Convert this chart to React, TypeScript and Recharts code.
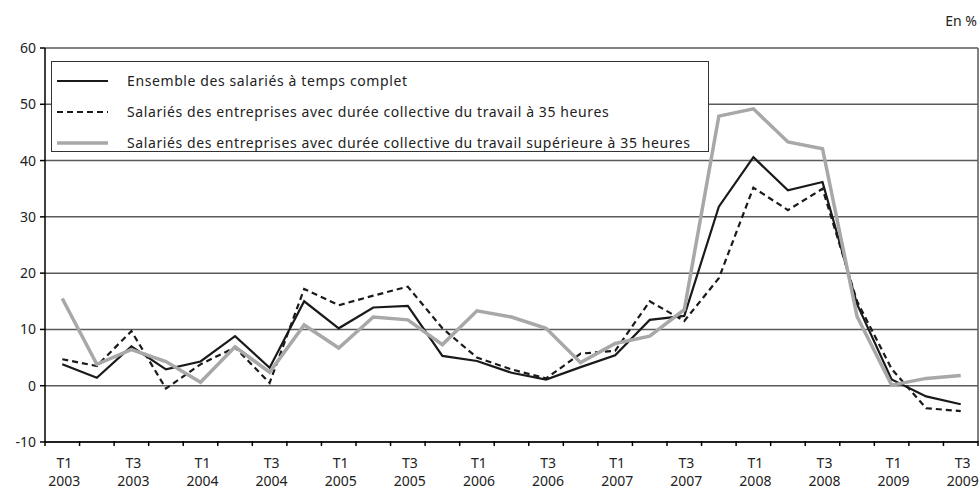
import { LineChart, Line, XAxis, YAxis, CartesianGrid, ReferenceLine, Legend } from "recharts";

const FONT = "'Noto Sans', 'Open Sans', sans-serif";

const periods = [
  "T1 2003", "T2 2003", "T3 2003", "T4 2003",
  "T1 2004", "T2 2004", "T3 2004", "T4 2004",
  "T1 2005", "T2 2005", "T3 2005", "T4 2005",
  "T1 2006", "T2 2006", "T3 2006", "T4 2006",
  "T1 2007", "T2 2007", "T3 2007", "T4 2007",
  "T1 2008", "T2 2008", "T3 2008", "T4 2008",
  "T1 2009", "T2 2009", "T3 2009",
];

// Ensemble des salariés à temps complet
const ensemble = [3.8, 1.4, 7.0, 2.9, 4.3, 8.8, 3.2, 15.0, 10.2, 13.9, 14.2, 5.3, 4.4, 2.3, 1.1, 3.3, 5.4, 11.7, 12.4, 31.8, 40.6, 34.7, 36.2, 14.5, 1.1, -1.9, -3.3];
// durée collective à 35 heures
const trenteCinq = [4.7, 3.5, 9.7, -0.5, 3.8, 6.8, 0.5, 17.2, 14.3, 16.0, 17.6, 10.2, 5.0, 2.9, 1.3, 5.7, 6.2, 15.0, 11.5, 19.1, 35.2, 31.2, 35.0, 15.0, 3.0, -4.0, -4.5];
// durée collective supérieure à 35 heures
const superieure = [15.5, 3.8, 6.4, 4.3, 0.6, 6.9, 2.4, 10.8, 6.7, 12.2, 11.7, 7.3, 13.3, 12.2, 10.2, 4.1, 7.5, 8.8, 13.5, 47.9, 49.2, 43.3, 42.1, 12.3, 0.1, 1.3, 1.8];

const seriesNames = [
  "Ensemble des salariés à temps complet",
  "Salariés des entreprises avec durée collective du travail à 35 heures",
  "Salariés des entreprises avec durée collective du travail supérieure à 35 heures",
];

const yTicks = [-10, 0, 10, 20, 30, 40, 50, 60];

const data = periods.map((p, i) => ({
  idx: i,
  label: p,
  ensemble: ensemble[i],
  trenteCinq: trenteCinq[i],
  superieure: superieure[i],
}));

// tick marks sit between quarters, labels on T1 / T3
const boundaryTicks = Array.from({ length: periods.length + 1 }, (_, i) => i - 0.5);
const labelTicks = periods.map((_, i) => i).filter((i) => i % 2 === 0);
const xTicks = [...boundaryTicks, ...labelTicks].sort((a, b) => a - b);

const XTick = (props: any) => {
  const { x, y, payload } = props;
  const v = payload.value as number;
  if (!Number.isInteger(v)) {
    return <line x1={x} y1={y - 1} x2={x} y2={y + 4} stroke="#000" strokeWidth={1.5} />;
  }
  const [q, year] = periods[v].split(" ");
  return (
    <g>
      <text x={x + 2} y={y + 26} textAnchor="middle" fontSize={14} fill="#222" fontFamily={FONT}>{q}</text>
      <text x={x + 2} y={y + 44} textAnchor="middle" fontSize={14} fill="#222" fontFamily={FONT}>{year}</text>
    </g>
  );
};

const styles = [
  { stroke: "#1a1a1a", width: 2.2, dash: undefined as string | undefined },
  { stroke: "#1a1a1a", width: 2.2, dash: "6 4" },
  { stroke: "#a8a8a8", width: 3.5, dash: undefined as string | undefined },
];

const renderLegend = () => (
  <div
    style={{
      width: 658,
      height: 91,
      boxSizing: "border-box",
      border: "1.5px solid #333",
      background: "#fff",
      fontFamily: FONT,
      fontSize: 14,
      letterSpacing: 0.6,
      color: "#222",
      paddingTop: 3,
    }}
  >
    {seriesNames.map((name, i) => (
      <div key={name} style={{ display: "flex", alignItems: "center", height: 31 }}>
        <svg width={64} height={10} style={{ marginLeft: 5, marginRight: 6 }}>
          <line
            x1={0}
            y1={5}
            x2={51}
            y2={5}
            stroke={styles[i].stroke}
            strokeWidth={styles[i].width}
            strokeDasharray={styles[i].dash}
          />
        </svg>
        <span>{name}</span>
      </div>
    ))}
  </div>
);

export default function App() {
  return (
    <div style={{ position: "absolute", left: 0, top: 0, width: 980, height: 489, background: "#fff", fontFamily: FONT }}>
      <div style={{ position: "absolute", right: 3, top: 11, fontSize: 14, color: "#222", lineHeight: "20px" }}>En %</div>
      <LineChart width={980} height={489} data={data} margin={{ top: 48, right: 2, left: 0, bottom: 0 }}>
        <CartesianGrid vertical={false} stroke="#5a5a5a" strokeWidth={1.5} />
        <XAxis
          dataKey="idx"
          type="number"
          domain={[-0.5, periods.length - 0.5]}
          ticks={xTicks}
          interval={0}
          tickLine={false}
          tickSize={0}
          tickMargin={0}
          height={47}
          axisLine={{ stroke: "#000", strokeWidth: 1.5 }}
          tick={<XTick />}
        />
        <YAxis
          domain={[-10, 60]}
          ticks={yTicks}
          interval={0}
          width={45}
          tickSize={5}
          tickMargin={4}
          axisLine={{ stroke: "#000", strokeWidth: 1.5 }}
          tickLine={{ stroke: "#000", strokeWidth: 1.5 }}
          tick={{ fontSize: 14, fill: "#222", fontFamily: FONT }}
        />
        <ReferenceLine x={periods.length - 0.5} stroke="#5a5a5a" strokeWidth={1.5} />
        <Legend
          layout="vertical"
          align="center"
          verticalAlign="middle"
          content={renderLegend}
          wrapperStyle={{ left: 51, top: 61, width: 658, height: 91 }}
        />
        <Line type="linear" dataKey="ensemble" name={seriesNames[0]} stroke={styles[0].stroke} strokeWidth={styles[0].width} dot={false} isAnimationActive={false} />
        <Line type="linear" dataKey="trenteCinq" name={seriesNames[1]} stroke={styles[1].stroke} strokeWidth={styles[1].width} strokeDasharray={styles[1].dash} dot={false} isAnimationActive={false} />
        <Line type="linear" dataKey="superieure" name={seriesNames[2]} stroke={styles[2].stroke} strokeWidth={styles[2].width} dot={false} isAnimationActive={false} />
      </LineChart>
    </div>
  );
}
